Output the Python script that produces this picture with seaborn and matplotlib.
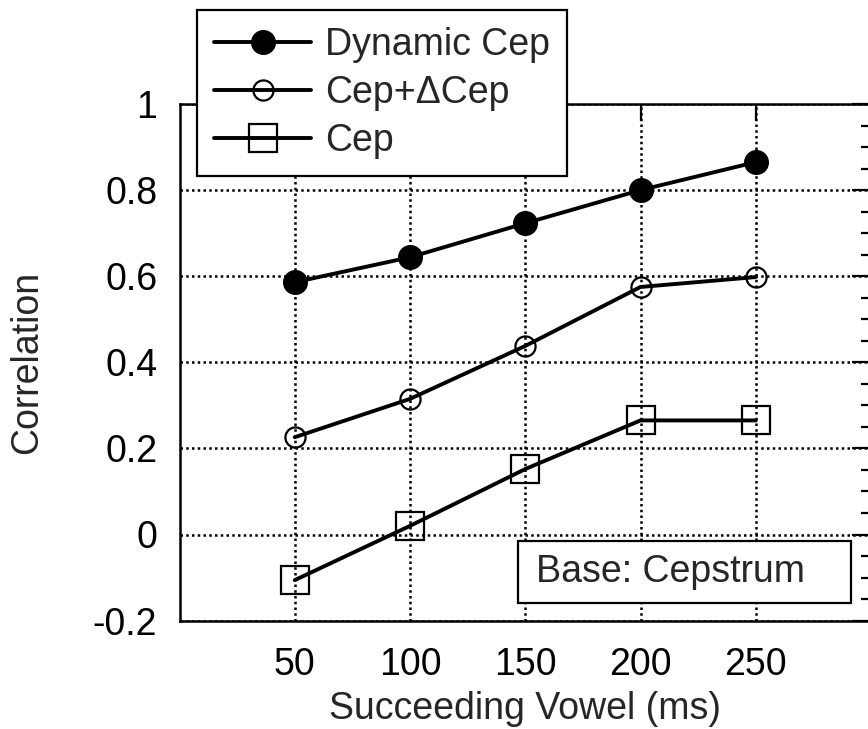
import numpy as np
import pandas as pd
import matplotlib
matplotlib.use("Agg")
import matplotlib.pyplot as plt
from matplotlib.ticker import MultipleLocator, FixedLocator, FixedFormatter
from matplotlib.patches import Rectangle
import seaborn as sns

# Succeeding vowel duration (ms)
durations = [50, 100, 150, 200, 250]

# Correlation for each feature set
dynamic_cep = [0.586, 0.644, 0.723, 0.800, 0.865]
cep_delta_cep = [0.226, 0.315, 0.438, 0.575, 0.598]
cep = [-0.106, 0.020, 0.152, 0.265, 0.265]

series_names = ["Dynamic Cep", "Cep+\u0394Cep", "Cep"]

y_tick_values = [-0.2, 0.0, 0.2, 0.4, 0.6, 0.8, 1.0]
y_tick_labels = ["-0.2", "0", "0.2", "0.4", "0.6", "0.8", "1"]
x_tick_values = [50, 100, 150, 200, 250]
x_tick_labels = ["50", "100", "150", "200", "250"]

annotation_text = "Base: Cepstrum"

sns.set_theme(style="white")
plt.rcParams["font.family"] = ["Liberation Sans", "DejaVu Sans"]
plt.rcParams["axes.edgecolor"] = "black"

FS = 27

fig = plt.figure(figsize=(8.68, 7.29), dpi=100)
W, H = 868, 729
ax = fig.add_axes([179.5 / W, (H - 620.6) / H, 691.5 / W, 516.6 / H])

styles = {
    "Dynamic Cep": dict(marker="o", markersize=17, markerfacecolor="black",
                        markeredgecolor="black", markeredgewidth=1.0),
    "Cep+\u0394Cep": dict(marker="o", markersize=14.5, markerfacecolor="none",
                          markeredgecolor="black", markeredgewidth=1.6),
    "Cep": dict(marker="s", markersize=20, markerfacecolor="none",
                markeredgecolor="black", markeredgewidth=1.6),
}

for name, values in zip(series_names, [dynamic_cep, cep_delta_cep, cep]):
    df = pd.DataFrame({"duration": durations, "corr": values})
    sns.lineplot(data=df, x="duration", y="corr", ax=ax, color="black",
                 linewidth=2.8, label=name, zorder=3, **styles[name])

ax.set_xlim(0, 300)
ax.set_ylim(-0.2, 1.0)

ax.xaxis.set_major_locator(FixedLocator(x_tick_values))
ax.xaxis.set_major_formatter(FixedFormatter(x_tick_labels))
ax.yaxis.set_major_locator(FixedLocator(y_tick_values))
ax.yaxis.set_major_formatter(FixedFormatter(y_tick_labels))
ax.yaxis.set_minor_locator(MultipleLocator(0.05))

ax.grid(True, which="major", color="black", linestyle=(0, (1.0, 1.3)),
        linewidth=1.8, zorder=1)

ax.tick_params(axis="both", which="both", direction="in", top=True,
               right=True, color="black", labelcolor="black")
ax.tick_params(axis="x", which="major", length=12, width=1.6, pad=19,
               labelsize=FS)
ax.tick_params(axis="y", which="major", length=14, width=1.6, pad=16,
               labelsize=FS)
ax.tick_params(axis="y", which="minor", length=7, width=1.6)

for sp in ax.spines.values():
    sp.set_linewidth(1.8)
    sp.set_color("black")

ax.set_xlabel("Succeeding Vowel (ms)", fontsize=FS, labelpad=6)
ax.set_ylabel("Correlation", fontsize=FS)
ax.yaxis.set_label_coords(-0.195, 0.5)

# Feature-set legend sitting over the top-left corner of the frame
leg = ax.legend(loc="upper left", bbox_to_anchor=(197 / W, 1 - 10 / H),
                bbox_transform=fig.transFigure, borderaxespad=0,
                fontsize=FS, handlelength=2.6, handletextpad=0.37,
                borderpad=0.45, labelspacing=0.32, fancybox=False,
                framealpha=1, edgecolor="black", facecolor="white")
leg.get_frame().set_linewidth(1.6)
leg.set_zorder(10)

# Boxed note in the lower right
ax.add_patch(Rectangle((0.490, 0.035), 0.481, 0.119, transform=ax.transAxes,
                       facecolor="white", edgecolor="black", linewidth=1.6,
                       zorder=5))
ax.text(0.516, 0.0944, annotation_text, transform=ax.transAxes, fontsize=FS,
        ha="left", va="center", zorder=6)

fig.savefig("out.png", dpi=100)
